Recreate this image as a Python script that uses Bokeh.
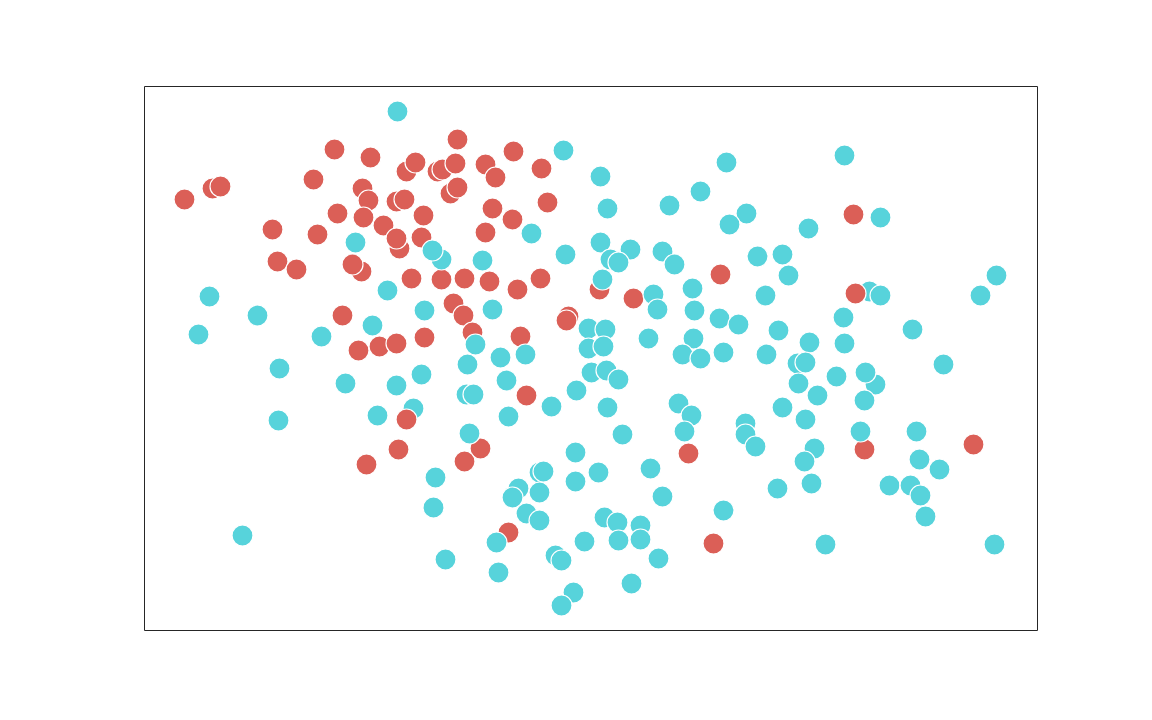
from bokeh.plotting import figure
from bokeh.models import Range1d
from bokeh.embed import file_html
from bokeh.resources import INLINE

# Group A (red), drawn first
red_x = [184, 212, 220, 272, 277, 296, 313, 317, 334, 337, 342, 358, 362, 368, 363, 370,
         361, 352, 379, 383, 396, 396, 404, 399, 396, 406, 415, 411, 421, 423, 424, 398,
         366, 437, 442, 455, 450, 457, 457, 441, 464, 453, 463, 472, 485, 495, 492, 485,
         489, 513, 512, 517, 520, 541, 547, 540, 526, 480, 464, 508, 568, 566, 599, 633,
         720, 688, 713, 853, 864, 973]
red_y = [199, 188, 186, 229, 261, 269, 179, 234, 149, 213, 315, 350, 188, 200, 217, 157,
         271, 264, 346, 225, 343, 201, 199, 248, 238, 171, 162, 278, 237, 215, 337, 449,
         464, 171, 169, 163, 193, 187, 139, 279, 278, 303, 315, 332, 164, 177, 208, 232,
         281, 151, 219, 289, 336, 168, 202, 278, 395, 448, 461, 532, 316, 320, 289, 298,
         274, 453, 543, 214, 449, 444]

# Group B (cyan)
cyan_x = [397, 563, 844, 726, 600, 700, 669, 607, 746, 880,
          729, 808, 531, 355, 600, 630, 441, 432, 565, 662,
          674, 610, 618, 482, 757, 782, 788, 996, 602, 692,
          387, 653, 765, 869, 880, 980, 209, 657, 694, 424,
          492, 257, 719, 738, 843, 372, 198, 321, 588, 605,
          912, 778, 475, 588, 603, 648, 693, 809, 844, 525,
          500, 682, 700, 723, 766, 467, 279, 797, 805, 943,
          345, 396, 421, 591, 606, 618, 506, 798, 836, 875,
          865, 466, 473, 576, 551, 413, 377, 278, 508, 607,
          864, 817, 782, 678, 691, 805, 745, 745, 684, 622,
          469, 860, 916, 755, 814, 575, 804, 919, 435, 575,
          598, 539, 543, 650, 939, 518, 512, 539, 811, 777,
          889, 910, 920, 662, 433, 526, 539, 604, 617, 640,
          723, 925, 242, 496, 584, 618, 640, 825, 994, 445,
          555, 561, 658, 498, 631, 573, 561]
cyan_y = [111, 150, 155, 162, 176, 191, 205, 208, 213, 217,
          224, 228, 233, 242, 242, 249, 259, 250, 254, 251,
          264, 259, 262, 260, 256, 254, 275, 275, 279, 288,
          290, 294, 295, 291, 295, 295, 296, 309, 310, 310,
          309, 315, 318, 324, 317, 325, 334, 336, 328, 329,
          329, 330, 344, 348, 346, 338, 338, 342, 343, 354,
          357, 354, 358, 352, 354, 364, 368, 363, 362, 364,
          383, 385, 374, 372, 370, 379, 380, 383, 376, 384,
          372, 394, 394, 390, 406, 408, 415, 420, 416, 407,
          400, 395, 407, 403, 415, 419, 423, 434, 431, 434,
          433, 431, 431, 446, 448, 452, 461, 459, 477, 481,
          472, 472, 471, 468, 469, 488, 497, 492, 483, 488,
          485, 485, 495, 496, 507, 513, 520, 517, 522, 525,
          510, 516, 535, 542, 541, 540, 539, 544, 544, 559,
          555, 560, 558, 572, 583, 592, 605]

# Group A points that are drawn on top of group B
red_top_x = [406, 855]
red_top_y = [419, 293]

RED = "#db5f57"
CYAN = "#57d3db"

p = figure(width=1136, height=704, output_backend="svg", toolbar_location=None,
           x_axis_location=None, y_axis_location=None,
           min_border_left=144, min_border_right=99,
           min_border_top=86, min_border_bottom=74)
p.x_range = Range1d(144, 1037)
p.y_range = Range1d(630, 86)
p.xgrid.visible = False
p.ygrid.visible = False
p.outline_line_color = "#262626"
p.outline_line_width = 1
p.background_fill_color = "white"
p.border_fill_color = "white"

common = dict(size=21, line_color="white", line_width=1.2)
p.scatter(red_x, red_y, fill_color=RED, **common)
p.scatter(cyan_x, cyan_y, fill_color=CYAN, **common)
p.scatter(red_top_x, red_top_y, fill_color=RED, **common)

open("out.html", "w").write(file_html(p, INLINE))
